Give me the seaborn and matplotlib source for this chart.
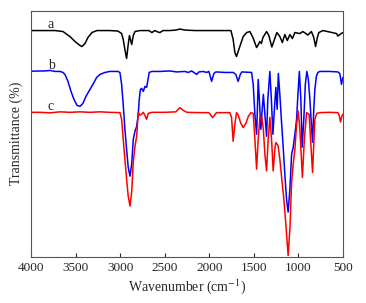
import numpy as np
import pandas as pd
import matplotlib
matplotlib.use('Agg')
import matplotlib.pyplot as plt
import seaborn as sns

# spectrum a (black)
wn_a = [4000, 3731, 3641, 3563, 3506, 3450, 3428, 3394, 3361, 3316, 3260, 3114,
	3024, 2983, 2965, 2946, 2927, 2909, 2895, 2870, 2852, 2833, 2777, 2676,
	2643, 2609, 2575, 2553, 2519, 2441, 2374, 2329, 2273, 2160, 1756, 1731,
	1712, 1693, 1675, 1637, 1618, 1580, 1543, 1509, 1468, 1448, 1431, 1414,
	1397, 1356, 1330, 1297, 1268, 1240, 1207, 1179, 1151, 1123, 1094, 1066,
	1038, 982, 949, 915, 893, 853, 826, 806, 786, 769, 724, 646, 571, 556,
	534, 500]
t_a = [226, 226, 225, 220, 215, 211, 210, 213, 219, 224, 226, 226,
	225.5, 223, 217, 207, 198, 212, 221, 212, 221, 225, 226, 226,
	224, 226, 224.5, 224, 226, 226, 226.5, 227.5, 226.5, 226, 226, 217,
	204, 200, 205, 215, 220, 224, 225, 219, 209, 212, 215, 213,
	219, 225, 221, 209.5, 217, 224, 220, 214, 222, 216, 222, 218,
	224, 223, 225, 223, 221.5, 225, 219, 210, 219, 224, 226, 224.5, 223, 220.5,
	222, 224]

# spectrum b (blue)
wn_b = [4000, 3843, 3787, 3731, 3675, 3641, 3619, 3585, 3551, 3518, 3484, 3450,
	3417, 3383, 3338, 3305, 3263, 3226, 3170, 3114, 3024, 3002, 2983, 2965,
	2946, 2927, 2909, 2889, 2870, 2852, 2833, 2814, 2796, 2785, 2772, 2758,
	2740, 2721, 2702, 2687, 2673, 2643, 2553, 2441, 2366, 2273, 2235, 2197,
	2171, 2141, 2115, 2070, 2029, 2003, 1973, 1947, 1925, 1824, 1731, 1701,
	1675, 1651, 1634, 1524, 1506, 1487, 1468, 1459, 1450, 1437, 1420, 1409,
	1392, 1375, 1356, 1342, 1319, 1302, 1285, 1268, 1252, 1237, 1224, 1207,
	1190, 1168, 1151, 1132, 1114, 1094, 1075, 1057, 1038, 1019, 1004, 988,
	971, 957, 938, 921, 904, 887, 870, 853, 840, 826, 814, 797, 780, 758,
	646, 556, 534, 515, 500]
t_b = [185.3, 185.5, 186, 185, 185, 184, 182, 175, 165, 157, 151, 150,
	153, 160, 167, 172, 179, 182, 184, 185, 185, 184, 172, 152,
	127, 107, 89, 80, 92, 117, 125, 130, 142, 157, 167, 168,
	165, 170, 169, 177, 184, 185, 185, 185.5, 184.5, 185, 184, 185.5,
	184, 182, 184.5, 185, 184, 185, 175, 183, 184.5, 184, 184, 182,
	175, 182, 184.5, 184, 172, 142, 122, 147, 177, 157, 127, 142,
	162, 142, 120, 157, 185, 157, 122, 147, 169, 147, 183, 162,
	137, 107, 82, 57, 44, 67, 102, 109, 122, 137, 162, 185,
	157, 109, 137, 172, 185, 177, 157, 132, 114, 147, 167, 180, 184, 185,
	185, 184.5, 183, 172, 179]

# spectrum c (red)
wn_c = [4000, 3899, 3787, 3675, 3563, 3450, 3338, 3226, 3114, 3002, 2983, 2965,
	2946, 2927, 2909, 2889, 2870, 2852, 2833, 2814, 2796, 2777, 2758, 2740,
	2721, 2702, 2684, 2643, 2497, 2374, 2329, 2291, 2250, 2104, 2003, 1962,
	1917, 1768, 1749, 1731, 1712, 1693, 1673, 1645, 1618, 1588, 1560, 1532,
	1506, 1487, 1468, 1450, 1431, 1412, 1392, 1375, 1356, 1338, 1319, 1300,
	1282, 1263, 1252, 1237, 1226, 1207, 1185, 1162, 1140, 1114, 1094, 1075,
	1057, 1038, 1019, 1001, 982, 954, 932, 907, 878, 859, 840, 826, 814,
	792, 758, 646, 556, 540, 526, 511, 500]
t_c = [144, 144, 143.5, 144.5, 144, 144.5, 144, 144.5, 144, 143.7, 137, 117,
	97, 77, 60, 50, 64, 94, 110, 120, 144, 141, 142, 144,
	141, 137, 143, 144, 144, 144.5, 148.7, 146, 144, 143.7, 143.7, 138.7,
	143.7, 143.7, 139, 115, 132, 143.7, 141, 133, 128.7, 133, 140, 143.7,
	143, 117, 87, 117, 139, 140.3, 127, 102, 85.3, 117, 139, 117,
	85.3, 107, 113.7, 112, 110.3, 97, 77, 57, 32, 0.5, 27, 74,
	92, 107, 132, 145.3, 127, 78.7, 117, 143.7, 142, 112, 83.7, 112, 137,
	143, 143.7, 144, 143.7, 141, 134.3, 140, 142]

labels = ['a', 'b', 'c']
colors = ['black', 'blue', 'red']

sns.set_style('white')
plt.rcParams['font.family'] = ['Liberation Serif', 'DejaVu Serif']
plt.rcParams['mathtext.fontset'] = 'stix'

fig = plt.figure(figsize=(3.66, 3.03), dpi=100)
ax = fig.add_axes([0.0847, 0.152, 0.852, 0.813])

for wn, t, col in zip([wn_a, wn_b, wn_c], [t_a, t_b, t_c], colors):
	df = pd.DataFrame({'wn': wn, 't': t})
	sns.lineplot(data=df, x='wn', y='t', color=col, lw=1.1, ax=ax,
		sort=False, estimator=None)

# curve labels
for lab, t in zip(labels, [t_a, t_b, t_c]):
	ax.text(3775, t[0] + 6, lab, fontsize=10, ha='center', va='center')

ax.set_xlim(4000, 500)
ax.set_ylim(-1, 246)
ax.set_xticks([4000, 3500, 3000, 2500, 2000, 1500, 1000, 500])
ax.set_yticks([])
ax.tick_params(axis='x', direction='in', length=3, width=0.8, labelsize=9.5,
	pad=4, bottom=True)
ax.set_xlabel('Wavenumber (cm$^{-1}$)', fontsize=10, labelpad=2)
ax.set_ylabel('Transmittance (%)', fontsize=10, labelpad=6)
for s in ax.spines.values():
	s.set_color('#555555')
	s.set_linewidth(0.8)

plt.savefig('out.png', dpi=100)
plt.close()
